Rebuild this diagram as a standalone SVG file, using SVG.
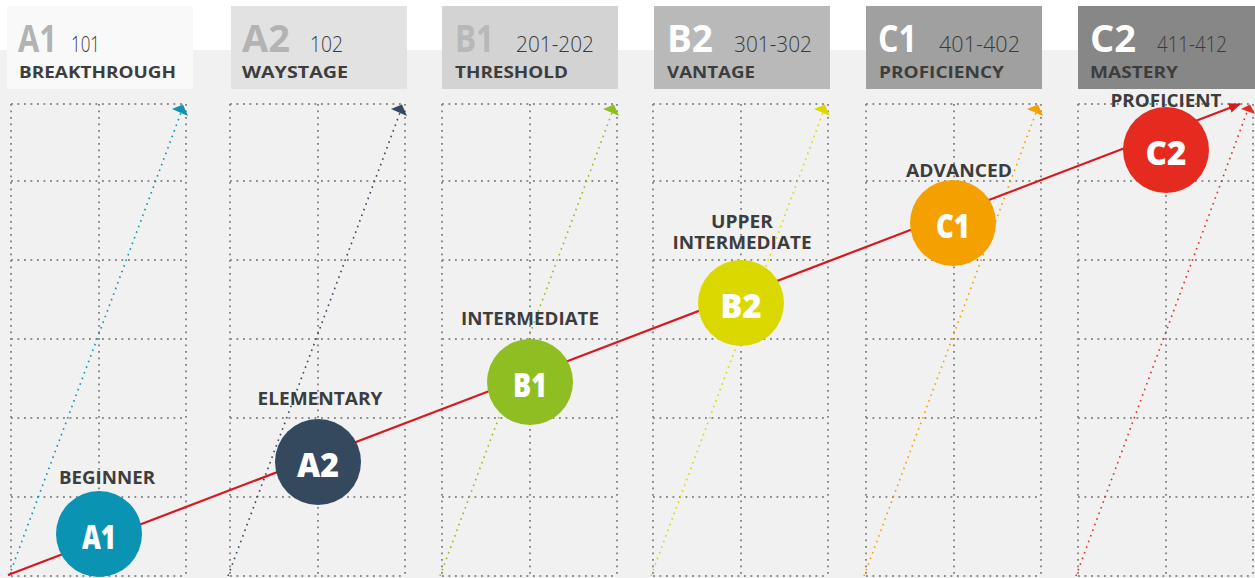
<svg xmlns="http://www.w3.org/2000/svg" xmlns:xlink="http://www.w3.org/1999/xlink" width="1255" height="578" viewBox="0 0 1255 578">
<style>
.hdr-big{font-family:"Open Sans","Liberation Sans",sans-serif;font-weight:700;font-size:37px}
.hdr-num{font-family:"Open Sans","Liberation Sans",sans-serif;font-weight:300;font-size:22px;fill:#3a3a3a}
.hdr-sub{font-family:"Open Sans","Liberation Sans",sans-serif;font-weight:700;font-size:16.5px;fill:#3d3d3d}
.lvl{font-family:"Open Sans","Liberation Sans",sans-serif;font-weight:700;font-size:17px;fill:#3d3d3d}
.ctext{font-family:"Open Sans","Liberation Sans",sans-serif;font-weight:800;font-size:34px;fill:#ffffff}
.grid{fill:none;stroke:#8a8a8a;stroke-width:2;stroke-dasharray:1.8 4.7}
.diag{fill:none;stroke-width:1.6;stroke-dasharray:1.6 4.4}
</style>
<defs>
<g id="gridcol">
<path class="grid" d="M0 104V576M88 104V576M175 104V576M0 104H175M0 181H175M0 260H175M0 339H175M0 418H175M0 497H175M0 576H175"/>
</g>
<marker id="redhead" viewBox="0 0 12 10" refX="11" refY="5" markerWidth="12" markerHeight="10" markerUnits="userSpaceOnUse" orient="auto">
<path d="M0 0L12 5L0 10Z" fill="#d7191f"/>
</marker>
</defs>
<rect x="0" y="0" width="1255" height="578" fill="#ffffff"/>
<rect x="0" y="50" width="1255" height="528" fill="#f1f1f1"/>

<g id="headers">
<g id="hdr-A1">
<rect x="7" y="6" width="186" height="83" fill="#f9f9f9"/>
<text class="hdr-big" x="18" y="52" fill="#b3b3b3" textLength="39" lengthAdjust="spacingAndGlyphs">A1</text>
<text class="hdr-num" x="71" y="52" textLength="29" lengthAdjust="spacingAndGlyphs">101</text>
<text class="hdr-sub" x="19" y="78" textLength="157" lengthAdjust="spacingAndGlyphs">BREAKTHROUGH</text>
</g>
<g id="hdr-A2">
<rect x="231" y="6" width="176" height="83" fill="#e2e2e2"/>
<text class="hdr-big" x="242" y="52" fill="#b3b3b3" textLength="48" lengthAdjust="spacingAndGlyphs">A2</text>
<text class="hdr-num" x="310" y="52" textLength="33" lengthAdjust="spacingAndGlyphs">102</text>
<text class="hdr-sub" x="242" y="78" textLength="106" lengthAdjust="spacingAndGlyphs">WAYSTAGE</text>
</g>
<g id="hdr-B1">
<rect x="442" y="6" width="176" height="83" fill="#d3d3d3"/>
<text class="hdr-big" x="455" y="52" fill="#b8b8b8" textLength="39" lengthAdjust="spacingAndGlyphs">B1</text>
<text class="hdr-num" x="516" y="52" textLength="78" lengthAdjust="spacingAndGlyphs">201-202</text>
<text class="hdr-sub" x="455" y="78" textLength="113" lengthAdjust="spacingAndGlyphs">THRESHOLD</text>
</g>
<g id="hdr-B2">
<rect x="654" y="6" width="176" height="83" fill="#b9b9b9"/>
<text class="hdr-big" x="667" y="52" fill="#ffffff" textLength="46" lengthAdjust="spacingAndGlyphs">B2</text>
<text class="hdr-num" x="734" y="52" textLength="78" lengthAdjust="spacingAndGlyphs">301-302</text>
<text class="hdr-sub" x="667" y="78" textLength="88" lengthAdjust="spacingAndGlyphs">VANTAGE</text>
</g>
<g id="hdr-C1">
<rect x="866" y="6" width="176" height="83" fill="#a0a0a0"/>
<text class="hdr-big" x="878" y="52" fill="#ffffff" textLength="39" lengthAdjust="spacingAndGlyphs">C1</text>
<text class="hdr-num" x="939" y="52" textLength="81" lengthAdjust="spacingAndGlyphs">401-402</text>
<text class="hdr-sub" x="879" y="78" textLength="125" lengthAdjust="spacingAndGlyphs">PROFICIENCY</text>
</g>
<g id="hdr-C2">
<rect x="1078" y="6" width="177" height="83" fill="#878787"/>
<text class="hdr-big" x="1090" y="52" fill="#ffffff" textLength="46" lengthAdjust="spacingAndGlyphs">C2</text>
<text class="hdr-num" x="1157" y="52" textLength="70" lengthAdjust="spacingAndGlyphs">411-412</text>
<text class="hdr-sub" x="1090" y="78" textLength="88" lengthAdjust="spacingAndGlyphs">MASTERY</text>
</g>
</g>

<g id="grid">
<use xlink:href="#gridcol" href="#gridcol" x="11" y="0"/>
<use xlink:href="#gridcol" href="#gridcol" x="230" y="0"/>
<use xlink:href="#gridcol" href="#gridcol" x="442" y="0"/>
<use xlink:href="#gridcol" href="#gridcol" x="653" y="0"/>
<use xlink:href="#gridcol" href="#gridcol" x="866" y="0"/>
<use xlink:href="#gridcol" href="#gridcol" x="1078" y="0"/>
</g>

<g id="connectors">
<path class="diag" d="M9 576L182 110" stroke="#0b93b4"/>
<polygon points="172,109 183,104.5 188,116" fill="#0b93b4"/>
<path class="diag" d="M228 576L401 110" stroke="#34495e"/>
<polygon points="391,109 402,104.5 407,116" fill="#34495e"/>
<path class="diag" d="M440 576L613 110" stroke="#8fbe22"/>
<polygon points="603,109 614,104.5 619,116" fill="#8fbe22"/>
<path class="diag" d="M651 576L824 110" stroke="#dbd800"/>
<polygon points="814,109 825,104.5 830,116" fill="#dbd800"/>
<path class="diag" d="M864 576L1037 110" stroke="#f4a100"/>
<polygon points="1027,109 1038,104.5 1043,116" fill="#f4a100"/>
<path class="diag" d="M1076 576L1247 112" stroke="#e52b1f"/>
<polygon points="1241,109 1250,104.5 1255,114" fill="#e52b1f"/>
<path d="M8 575L1240 104" fill="none" stroke="#d7191f" stroke-width="2.2" marker-end="url(#redhead)"/>
</g>

<g id="node-A1">
<circle cx="99" cy="534" r="43" fill="#0b93b4"/>
<text class="ctext" x="99" y="549" text-anchor="middle" textLength="34" lengthAdjust="spacingAndGlyphs">A1</text>
<text class="lvl" x="107" y="484" text-anchor="middle" textLength="96" lengthAdjust="spacingAndGlyphs">BEGINNER</text>
</g>
<g id="node-A2">
<circle cx="318" cy="462" r="43" fill="#34495e"/>
<text class="ctext" x="318" y="477" text-anchor="middle" textLength="42" lengthAdjust="spacingAndGlyphs">A2</text>
<text class="lvl" x="320" y="405" text-anchor="middle" textLength="125" lengthAdjust="spacingAndGlyphs">ELEMENTARY</text>
</g>
<g id="node-B1">
<circle cx="530" cy="382" r="43" fill="#8fbe22"/>
<text class="ctext" x="530" y="397" text-anchor="middle" textLength="34" lengthAdjust="spacingAndGlyphs">B1</text>
<text class="lvl" x="530" y="325" text-anchor="middle" textLength="138" lengthAdjust="spacingAndGlyphs">INTERMEDIATE</text>
</g>
<g id="node-B2">
<circle cx="741" cy="303" r="43" fill="#dbd800"/>
<text class="ctext" x="741" y="318" text-anchor="middle" textLength="41" lengthAdjust="spacingAndGlyphs">B2</text>
<text class="lvl" x="742" y="228" text-anchor="middle" textLength="62" lengthAdjust="spacingAndGlyphs">UPPER</text>
<text class="lvl" x="742" y="249" text-anchor="middle" textLength="139" lengthAdjust="spacingAndGlyphs">INTERMEDIATE</text>
</g>
<g id="node-C1">
<circle cx="953" cy="223" r="43" fill="#f4a100"/>
<text class="ctext" x="953" y="238" text-anchor="middle" textLength="34" lengthAdjust="spacingAndGlyphs">C1</text>
<text class="lvl" x="959" y="177" text-anchor="middle" textLength="106" lengthAdjust="spacingAndGlyphs">ADVANCED</text>
</g>
<g id="node-C2">
<circle cx="1166" cy="150" r="43" fill="#e52b1f"/>
<text class="ctext" x="1166" y="165" text-anchor="middle" textLength="41" lengthAdjust="spacingAndGlyphs">C2</text>
<text class="lvl" x="1166" y="107" text-anchor="middle" textLength="111" lengthAdjust="spacingAndGlyphs">PROFICIENT</text>
</g>
</svg>
